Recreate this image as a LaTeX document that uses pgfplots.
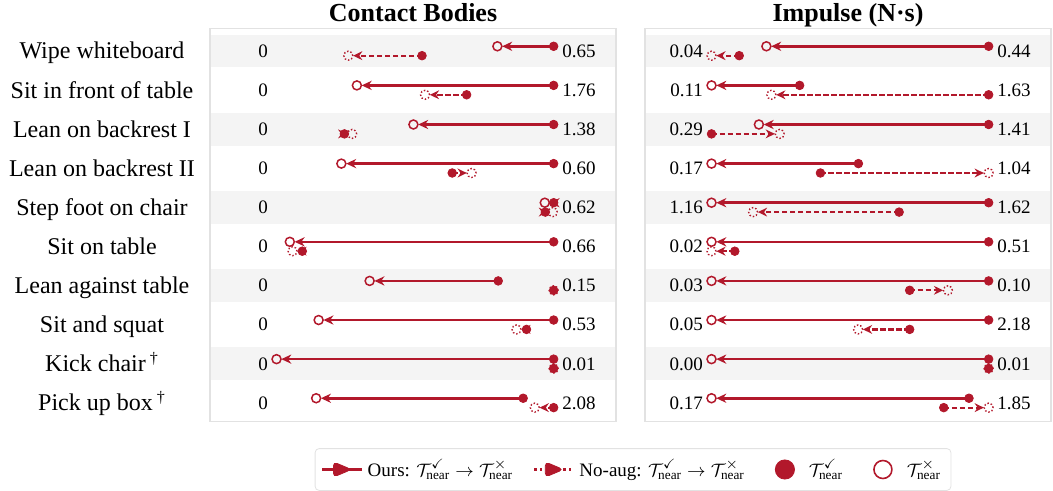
\documentclass[border=0pt]{standalone}
\usepackage{amsmath,amssymb}
\usepackage{fontspec}
\setmainfont{Liberation Serif}
\usepackage{pgfplots}
\pgfplotsset{compat=1.18}
\usepackage{pgfplotstable}
\usetikzlibrary{arrows.meta}
\definecolor{crimson}{RGB}{178,24,43}
\definecolor{bandgray}{RGB}{244,244,244}
\definecolor{framegray}{RGB}{226,226,226}
\newcommand\numfont{\fontsize{9.5}{11}\selectfont}
\newcommand\catfont{\fontsize{12}{14}\selectfont}
\newcommand\titfont{\bfseries\fontsize{13}{15}\selectfont}

% normalized positions per row (0 = row min label, 1 = row max label)
\pgfplotstableread{
row min max oF oO nF nO
0 0 0.65 1.000 0.797 0.525 0.259
1 0 1.76 1.000 0.290 0.686 0.536
2 0 1.38 1.000 0.494 0.245 0.273
3 0 0.60 1.000 0.234 0.634 0.704
4 0 0.62 1.000 0.968 0.970 0.997
5 0 0.66 1.000 0.048 0.093 0.058
6 0 0.15 0.800 0.336 1.000 1.000
7 0 0.53 1.000 0.152 0.902 0.866
8 0 0.01 1.000 0.000 1.000 1.000
9 0 2.08 0.890 0.143 1.000 0.932
}\contact
\pgfplotstableread{
row min max oF oO nF nO
0 0.04 0.44 1.000 0.198 0.100 0.000
1 0.11 1.63 0.318 0.000 1.000 0.216
2 0.29 1.41 1.000 0.171 0.000 0.246
3 0.17 1.04 0.530 0.000 0.393 1.000
4 1.16 1.62 1.000 0.000 0.677 0.150
5 0.02 0.51 1.000 0.000 0.084 0.000
6 0.03 0.10 1.000 0.000 0.715 0.853
7 0.05 2.18 1.000 0.000 0.715 0.529
8 0.00 0.01 1.000 0.000 1.000 1.000
9 0.17 1.85 0.929 0.000 0.838 1.000
}\impulse

\pgfplotsset{
  panel/.style={
    scale only axis, width=203pt, height=196.7pt,
    xmin=-0.24, xmax=1.225, ymin=-0.58, ymax=9.48, y dir=reverse,
    xtick=\empty, axis line style={draw=framegray, line width=0.6pt},
    clip=false, axis on top, major tick length=0pt,
  },
}

\newcommand\panel[2]{%
  \pgfplotsinvokeforeach{0,2,4,6,8}{\fill[bandgray] (axis cs:-0.24,##1-0.42) rectangle (axis cs:1.225,##1+0.42);}
  % Ours arrows
  \addplot[crimson, line width=1.3pt, -{Stealth[length=5pt,width=4.6pt]}, shorten >=2.4pt,
    quiver={u=\thisrow{oO}-\thisrow{oF},v=0},
    x filter/.expression={abs(\thisrow{oO}-\thisrow{oF})<0.005 ? nan : x}, forget plot]
    table[x=oF, y expr=\thisrow{row}-0.12]{#1};
  % No-aug arrows
  \addplot[crimson, line width=1.1pt, dash pattern=on 2.7pt off 1.3pt, -{Stealth[length=4.6pt,width=4.4pt]}, shorten >=2.4pt,
    quiver={u=\thisrow{nO}-\thisrow{nF},v=0},
    x filter/.expression={abs(\thisrow{nO}-\thisrow{nF})<0.005 ? nan : x}, forget plot]
    table[x=nF, y expr=\thisrow{row}+0.12]{#1};
  % markers
  \addplot[only marks, crimson, mark=*, mark size=2.15pt, forget plot] table[x=oF, y expr=\thisrow{row}-0.12]{#1};
  \addplot[only marks, crimson, mark=o, mark size=2.25pt, mark options={line width=0.75pt}, forget plot] table[x=oO, y expr=\thisrow{row}-0.12]{#1};
  \addplot[only marks, crimson, mark=*, mark size=2.15pt, forget plot] table[x=nF, y expr=\thisrow{row}+0.12]{#1};
  \addplot[only marks, crimson, mark=o, mark size=2.25pt, mark options={line width=0.7pt, densely dotted}, forget plot] table[x=nO, y expr=\thisrow{row}+0.12]{#1};
  % min / max labels
  \addplot[draw=none, mark=none, forget plot, nodes near coords, point meta=explicit symbolic,
    every node near coord/.append style={anchor=east, inner sep=0pt, text=black, font=\numfont}]
    table[x expr=-0.03, y=row, meta=min]{#1};
  \addplot[draw=none, mark=none, forget plot, nodes near coords, point meta=explicit symbolic,
    every node near coord/.append style={anchor=west, inner sep=0pt, text=black, font=\numfont}]
    table[x expr=1.03, y=row, meta=max]{#1};
  \node[anchor=base, font=\titfont, inner sep=0pt] at ([yshift=3.65pt]axis description cs:0.5,1) {#2};
}

\begin{document}
\begin{tikzpicture}
\useasboundingbox (0,0) rectangle (526.5pt,-245.5pt);
\begin{axis}[panel, at={(105pt,-14.15pt)}, anchor=north west,
  ytick={0,1,2,3,4,5,6,7,8,9},
  yticklabels={Wipe whiteboard, Sit in front of table, Lean on backrest I, Lean on backrest II, Step foot on chair, Sit on table, Lean against table, Sit and squat, {Kick chair\,\textsuperscript{\textdagger}}, {Pick up box\,\textsuperscript{\textdagger}}},
  yticklabel style={anchor=center, xshift=-54pt, font=\catfont, text height=11pt, text depth=3pt, inner sep=0pt},
]
\panel{\contact}{Contact Bodies}
\end{axis}
\begin{axis}[panel, at={(322.5pt,-14.15pt)}, anchor=north west,
  ytick=\empty,
  legend columns=4,
  legend style={at={(-0.0295,-0.1215)}, anchor=center, draw=framegray, rounded corners=2pt,
    font=\fontsize{9.5}{11}\selectfont, inner ysep=3.5pt, inner xsep=3pt,
    /tikz/every even column/.append style={column sep=8pt}},
]
\panel{\impulse}{Impulse (N·s)}
\addlegendimage{legend image code/.code={
  \draw[crimson, line width=1.3pt] (0pt,0pt) -- (20pt,0pt);
  \fill[crimson] (5.5pt,3.8pt) -- (14.5pt,0pt) -- (5.5pt,-3.8pt) -- cycle;}}
\addlegendentry{Ours: $\mathcal{T}^{\checkmark}_{\text{near}}\rightarrow\mathcal{T}^{\times}_{\text{near}}$}
\addlegendimage{legend image code/.code={
  \draw[crimson, line width=1.2pt, dash pattern=on 1.2pt off 1.7pt] (0pt,0pt) -- (20pt,0pt);
  \fill[crimson] (5.5pt,3.8pt) -- (14.5pt,0pt) -- (5.5pt,-3.8pt) -- cycle;}}
\addlegendentry{No-aug: $\mathcal{T}^{\checkmark}_{\text{near}}\rightarrow\mathcal{T}^{\times}_{\text{near}}$}
\addlegendimage{legend image code/.code={
  \path[draw=none, fill=none] (0pt,-4.8pt) rectangle (20pt,4.8pt);
  \fill[crimson] (10pt,0pt) circle (4.8pt);}}
\addlegendentry{$\mathcal{T}^{\checkmark}_{\text{near}}$}
\addlegendimage{legend image code/.code={
  \path[draw=none, fill=none] (0pt,-4.8pt) rectangle (20pt,4.8pt);
  \draw[crimson, line width=0.8pt] (10pt,0pt) circle (4.5pt);}}
\addlegendentry{$\mathcal{T}^{\times}_{\text{near}}$}
\end{axis}
\end{tikzpicture}
\end{document}
